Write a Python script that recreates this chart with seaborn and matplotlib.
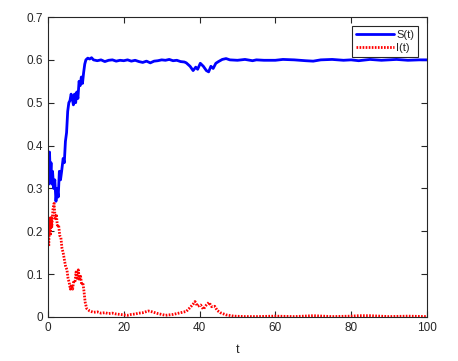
import pandas as pd
import seaborn as sns
import matplotlib.pyplot as plt

# values
s_t = [0, 0.2, 0.4, 0.6, 0.8, 1.0, 1.2, 1.5, 1.8, 2.1, 2.4, 2.7, 3.0, 3.3, 3.6,
       4.0, 4.3, 4.6, 4.9, 5.2, 5.5, 5.8, 6.1, 6.4, 6.7, 7.0, 7.3, 7.6, 7.9,
       8.2, 8.5, 8.8, 9.1, 9.4, 9.7, 10.0, 10.5, 11, 11.5, 12, 13, 14, 15, 16,
       17, 18, 19, 20, 21, 22, 23, 24, 25, 26, 27, 28, 29, 30, 31, 32, 33, 34,
       35, 36, 36.5, 37.5, 38.3, 39.0, 39.5, 40.2, 41, 41.8, 42.4, 43.0, 43.6,
       44.3, 45, 46, 47, 48, 50, 52, 54, 55, 57, 60, 62, 65, 68, 70, 72, 75,
       78, 80, 82, 85, 88, 90, 92, 95, 98, 100]
s_val = [0.33, 0.31, 0.385, 0.33, 0.36, 0.31, 0.34, 0.30, 0.32, 0.27, 0.30, 0.28,
         0.34, 0.32, 0.34, 0.37, 0.36, 0.41, 0.43, 0.48, 0.50, 0.505, 0.52, 0.51,
         0.495, 0.52, 0.50, 0.525, 0.51, 0.55, 0.54, 0.56, 0.545, 0.57, 0.59,
         0.60, 0.604, 0.602, 0.605, 0.600, 0.598, 0.600, 0.596, 0.599, 0.600,
         0.597, 0.599, 0.598, 0.600, 0.597, 0.599, 0.596, 0.594, 0.597, 0.593,
         0.597, 0.598, 0.600, 0.599, 0.601, 0.598, 0.599, 0.596, 0.595, 0.593,
         0.585, 0.575, 0.583, 0.578, 0.592, 0.585, 0.575, 0.572, 0.585, 0.58,
         0.592, 0.596, 0.601, 0.603, 0.600, 0.599, 0.601, 0.598, 0.600, 0.599,
         0.599, 0.601, 0.600, 0.598, 0.597, 0.600, 0.601, 0.599, 0.600, 0.598,
         0.601, 0.599, 0.600, 0.601, 0.599, 0.600, 0.600]

i_t = [0, 0.2, 0.4, 0.6, 0.8, 1.0, 1.3, 1.6, 1.9, 2.2, 2.5, 2.8, 3.1, 3.4, 3.7,
       4.0, 4.3, 4.6, 5.0, 5.3, 5.6, 5.9, 6.2, 6.5, 6.8, 7.1, 7.4, 7.7, 8.0,
       8.3, 8.6, 8.9, 9.2, 9.5, 9.8, 10.2, 11, 12, 13, 14, 15, 16, 17, 18, 19,
       20, 21, 22, 23, 24, 25, 26.5, 27.5, 29, 30, 31, 32, 33, 34, 35, 36.5,
       37.5, 38.3, 38.8, 39.5, 40.3, 41, 41.8, 42.5, 43.2, 44, 44.7, 45.5, 47,
       49, 52, 55, 60, 65, 70, 75, 80, 82, 85, 90, 95, 100]
i_val = [0.20, 0.165, 0.23, 0.19, 0.235, 0.21, 0.25, 0.265, 0.23, 0.24, 0.21,
         0.215, 0.19, 0.185, 0.16, 0.15, 0.135, 0.12, 0.11, 0.09, 0.08, 0.065,
         0.075, 0.065, 0.085, 0.08, 0.105, 0.09, 0.11, 0.085, 0.095, 0.075, 0.08,
         0.06, 0.035, 0.02, 0.014, 0.011, 0.012, 0.009, 0.010, 0.008, 0.009,
         0.007, 0.006, 0.005, 0.004, 0.006, 0.007, 0.009, 0.010, 0.014, 0.012,
         0.008, 0.006, 0.004, 0.005, 0.006, 0.008, 0.010, 0.013, 0.022, 0.030,
         0.036, 0.025, 0.028, 0.018, 0.028, 0.034, 0.024, 0.025, 0.015, 0.010,
         0.005, 0.002, 0.001, 0.001, 0.002, 0.001, 0.003, 0.001, 0.002, 0.003,
         0.003, 0.001, 0.002, 0.001]

x_ticks = [0, 20, 40, 60, 80, 100]
y_ticks = [0, 0.1, 0.2, 0.3, 0.4, 0.5, 0.6, 0.7]

s_df = pd.DataFrame({'t': s_t, 'value': s_val})
i_df = pd.DataFrame({'t': i_t, 'value': i_val})

sns.set_style("white")
plt.rcParams['font.family'] = ['Liberation Sans', 'DejaVu Sans']

fig = plt.figure(figsize=(4.58, 3.61), dpi=100)
ax = fig.add_axes([0.1048, 0.1219, 0.8272, 0.831])

sns.lineplot(data=s_df, x='t', y='value', ax=ax, color='#0000ff',
             linewidth=2.0, label='S(t)', estimator=None, sort=False)
sns.lineplot(data=i_df, x='t', y='value', ax=ax, color='#ff0000',
             linewidth=2.0, linestyle=(0, (0.6, 0.5)), label='I(t)',
             estimator=None, sort=False)

ax.set_xlim(0, 100)
ax.set_ylim(0, 0.7)
ax.set_xticks(x_ticks)
ax.set_yticks(y_ticks)
ax.set_xticklabels([str(v) for v in x_ticks])
ax.set_yticklabels(['0', '0.1', '0.2', '0.3', '0.4', '0.5', '0.6', '0.7'])
ax.set_xlabel('t', fontsize=9, labelpad=7)
ax.set_ylabel('')

for sp in ax.spines.values():
    sp.set_visible(True)
    sp.set_color('#262626')
    sp.set_linewidth(0.8)
ax.tick_params(direction='in', length=4, width=0.8, colors='#262626',
               labelsize=8.5, top=True, right=True, bottom=True, left=True,
               labelcolor='#262626')

leg = ax.legend(loc='upper right', fontsize=8, handlelength=3.4,
                borderpad=0.35, labelspacing=0.3, handletextpad=0.2,
                fancybox=False, framealpha=1, borderaxespad=0.8)
leg.get_frame().set_edgecolor('#262626')
leg.get_frame().set_linewidth(0.8)

plt.savefig('out.png', dpi=100)
